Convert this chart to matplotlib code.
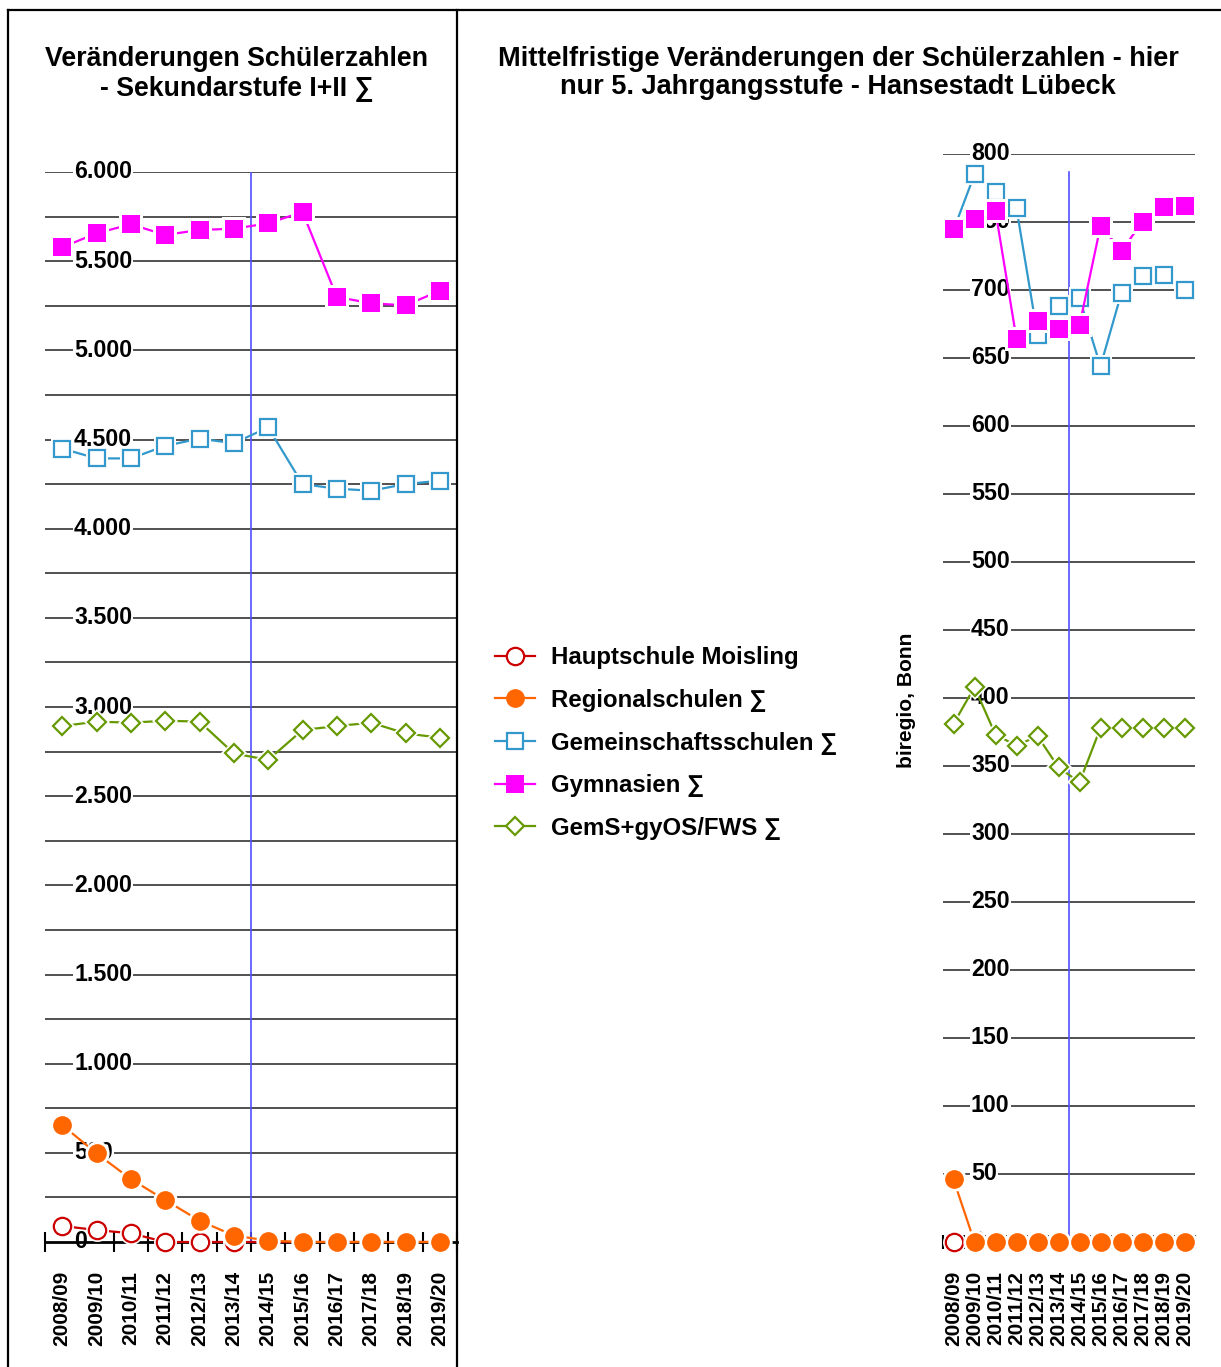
import numpy as np
import matplotlib
matplotlib.use('Agg')
import matplotlib.pyplot as plt
from matplotlib import font_manager
from matplotlib.lines import Line2D
import matplotlib.transforms as mtransforms

# ---------------- data ----------------
categories = ['2008/09', '2009/10', '2010/11', '2011/12', '2012/13', '2013/14',
              '2014/15', '2015/16', '2016/17', '2017/18', '2018/19', '2019/20']
series_names = ['Hauptschule Moisling', 'Regionalschulen ∑', 'Gemeinschaftsschulen ∑',
                'Gymnasien ∑', 'GemS+gyOS/FWS ∑']

# left chart: Sekundarstufe I+II
haupt_left = [90, 67, 49, 0, 0, 0, 0, 0, 0, 0, 0, 0]
regional_left = [656, 497, 353, 235, 120, 36, 8, 0, 0, 0, 0, 0]
gemein_left = [4449, 4394, 4394, 4464, 4505, 4479, 4568, 4250, 4224, 4213, 4250, 4269]
gym_left = [5578, 5656, 5707, 5647, 5675, 5682, 5712, 5776, 5299, 5264, 5252, 5334]
gems_left = [2893, 2918, 2912, 2923, 2918, 2740, 2703, 2871, 2893, 2912, 2852, 2828]

# right chart: 5. Jahrgangsstufe
haupt_right = [0, 0, 0, 0, 0, 0, 0, 0, 0, 0, 0, 0]
regional_right = [46, 0, 0, 0, 0, 0, 0, 0, 0, 0, 0, 0]
gemein_right = [744, 785, 772, 760, 667, 688, 694, 644, 698, 710, 711, 700]
gym_right = [745, 752, 758, 664, 677, 671, 674, 747, 729, 750, 761, 762]
gems_right = [381, 408, 373, 365, 372, 349, 338, 378, 378, 378, 378, 378]

left_ticks = list(range(0, 6001, 500))
right_ticks = list(range(0, 801, 50))

# ---------------- styling ----------------
W, H = 1221, 1367
fig = plt.figure(figsize=(W / 100, H / 100), dpi=100)

avail = {f.name for f in font_manager.fontManager.ttflist}
BASE = ['Liberation Sans', 'DejaVu Sans']
NARROW = (['Liberation Sans Narrow'] if 'Liberation Sans Narrow' in avail else []) + BASE
plt.rcParams['font.family'] = BASE
plt.rcParams['font.weight'] = 'bold'

renderer = fig.canvas.get_renderer()


def fit_size(text, family, target, rotation=0, start=16):
    t = fig.text(0, 0, text, family=family, fontsize=start, weight='bold', rotation=rotation)
    bb = t.get_window_extent(renderer)
    size = bb.width if rotation == 0 else bb.height
    t.remove()
    return start * target / size


def px_axes(x0, x1, ytop, ybot):
    return fig.add_axes([x0 / W, 1 - ybot / H, (x1 - x0) / W, (ybot - ytop) / H])


colors = ['#cc0000', '#ff6600', '#3399cc', '#ff00ff', '#669900']
markers = ['o', 'o', 's', 's', 'D']
filled = [False, True, False, True, False]
msizes = [12.5, 13.5, 12, 13, 9.5]

xt_size = fit_size('2008/09', NARROW, 75, rotation=90)
tick_size = fit_size('6.000', BASE, 58)
x = np.arange(len(categories))


def draw_series(ax, ys):
    for i, y in enumerate(ys):
        z = 3 + i
        c = colors[i]
        ax.plot(x, y, color=c, lw=1.6, zorder=z, clip_on=False)
        ax.plot(x, y, ls='none', marker=markers[i], ms=msizes[i] + 4, mfc='white',
                mec='white', mew=0, zorder=z + 0.1, clip_on=False)
        ax.plot(x, y, ls='none', marker=markers[i], ms=msizes[i],
                mfc=c if filled[i] else 'white', mec=c,
                mew=0 if filled[i] else 1.6, zorder=z + 0.2, clip_on=False)


def setup_axis(ax, ymax, grid_step, ticks, label_xpx, ax_x0, ax_w, fmt, spine_lw, tick_len):
    ax.set_xlim(-0.5, len(categories) - 0.5)
    ax.set_ylim(0, ymax)
    for s in ['top', 'left', 'right']:
        ax.spines[s].set_visible(False)
    ax.spines['bottom'].set_linewidth(spine_lw)
    ax.spines['bottom'].set_zorder(2.5)
    ax.set_yticks([])
    ax.set_xticks(x)
    ax.set_xticklabels(categories, rotation=90, fontsize=xt_size, family=NARROW,
                       weight='bold', va='top', ha='center')
    ax.set_xticks(np.arange(-0.5, len(categories), 1), minor=True)
    ax.tick_params(axis='x', which='major', length=0, pad=21)
    ax.tick_params(axis='x', which='minor', direction='inout', length=tick_len, width=1.5)
    for v in np.arange(grid_step, ymax + 1, grid_step):
        ax.axhline(v, color='#222222', lw=1.1, zorder=1)
    trans = mtransforms.blended_transform_factory(ax.transAxes, ax.transData)
    lx = (label_xpx - ax_x0) / ax_w
    for v in ticks:
        ax.text(lx, v, fmt(v), transform=trans, ha='left', va='center',
                fontsize=tick_size, weight='bold', zorder=2,
                bbox=dict(fc='white', ec='none', pad=0.6))


def de_fmt(v):
    return f"{v:,}".replace(',', '.')


axL = px_axes(45, 457, 172, 1242)
setup_axis(axL, 6000, 250, left_ticks, 74, 45, 412, de_fmt, 2.0, 14)
draw_series(axL, [haupt_left, regional_left, gemein_left, gym_left, gems_left])
axL.axvline(5.5, color='#5050ff', lw=1.2, zorder=2.6)

axR = px_axes(943, 1195, 154, 1242)
setup_axis(axR, 800, 50, right_ticks, 971, 943, 252, lambda v: str(v), 1.2, 10)
draw_series(axR, [haupt_right, regional_right, gemein_right, gym_right, gems_right])
axR.axvline(5.5, ymax=(1242 - 172) / (1242 - 154), color='#5050ff', lw=1.2, zorder=2.6)

# panel borders
fig.add_artist(Line2D([8 / W, 8 / W], [0, 1 - 10 / H], transform=fig.transFigure, color='black', lw=1.6))
fig.add_artist(Line2D([457 / W, 457 / W], [0, 1 - 10 / H], transform=fig.transFigure, color='black', lw=1.6))
fig.add_artist(Line2D([8 / W, 1], [1 - 10 / H, 1 - 10 / H], transform=fig.transFigure, color='black', lw=1.6))

# titles
t1_size = fit_size('Veränderungen Schülerzahlen', BASE, 383)
fig.text(236.5 / W, 1 - 74 / H, 'Veränderungen Schülerzahlen\n- Sekundarstufe I+II ∑',
         ha='center', va='center', fontsize=t1_size, weight='bold', family=BASE,
         linespacing=31 / (t1_size * 100 / 72))
t2_size = fit_size('Mittelfristige Veränderungen der Schülerzahlen - hier', NARROW, 680)
fig.text(838 / W, 1 - 73 / H,
         'Mittelfristige Veränderungen der Schülerzahlen - hier\nnur 5. Jahrgangsstufe - Hansestadt Lübeck',
         ha='center', va='center', fontsize=t2_size, weight='bold', family=NARROW,
         linespacing=31 / (t2_size * 100 / 72))

# y label right
yl_size = fit_size('biregio, Bonn', BASE, 135, rotation=90)
fig.text(906 / W, 1 - 700 / H, 'biregio, Bonn', rotation=90, ha='center', va='center',
         fontsize=yl_size, weight='bold')

# legend
leg_size = fit_size('Hauptschule Moisling', BASE, 247)
handles = []
for i in range(5):
    handles.append(Line2D([0], [0], color=colors[i], lw=1.6, marker=markers[i], ms=msizes[i],
                          mfc=colors[i] if filled[i] else 'white', mec=colors[i],
                          mew=0 if filled[i] else 1.6))
fs_px = leg_size * 100 / 72
fig.legend(handles, series_names, loc='center left', bbox_to_anchor=(495 / W, 1 - 743 / H),
           frameon=False, prop={'size': leg_size, 'weight': 'bold'},
           handlelength=40 / fs_px, handletextpad=16 / fs_px,
           labelspacing=(43.6 - fs_px * 1.0) / fs_px, borderpad=0, borderaxespad=0)

fig.savefig('out.png', dpi=100)
